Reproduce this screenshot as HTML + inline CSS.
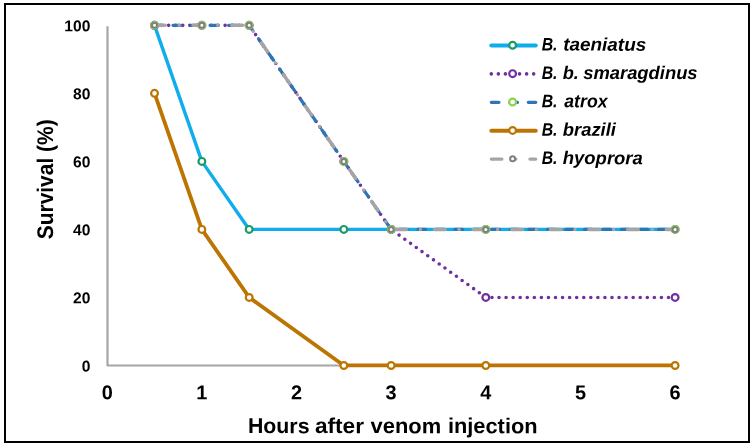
<!DOCTYPE html>
<html><head><meta charset="utf-8"><style>
html,body{margin:0;padding:0;background:#fff;}
body{width:754px;height:446px;overflow:hidden;position:relative;font-family:"Liberation Sans",sans-serif;}
.frame{position:absolute;left:4px;top:3px;width:742px;height:436px;border:2px solid #000;}
svg{position:absolute;left:0;top:0;will-change:transform;}
</style></head><body>
<div class="frame"></div>
<svg width="754" height="446" viewBox="0 0 754 446">
<path d="M107.50,26.2 L107.50,365.50 L675.10,365.50" fill="none" stroke="#a6a6a6" stroke-width="2.2" stroke-linejoin="round"/>
<polyline points="154.53,25.35 201.85,161.39 249.18,229.41 343.82,229.41 391.15,229.41 485.80,229.41 675.10,229.41" fill="none" stroke="#0fadec" stroke-width="3.4" stroke-linejoin="round" stroke-linecap="round"/>
<circle cx="154.53" cy="25.35" r="3.40" fill="#fff" stroke="#1b9966" stroke-width="2.2"/><circle cx="201.85" cy="161.39" r="3.40" fill="#fff" stroke="#1b9966" stroke-width="2.2"/><circle cx="249.18" cy="229.41" r="3.40" fill="#fff" stroke="#1b9966" stroke-width="2.2"/><circle cx="343.82" cy="229.41" r="3.40" fill="#fff" stroke="#1b9966" stroke-width="2.2"/><circle cx="391.15" cy="229.41" r="3.40" fill="#fff" stroke="#1b9966" stroke-width="2.2"/><circle cx="485.80" cy="229.41" r="3.40" fill="#fff" stroke="#1b9966" stroke-width="2.2"/><circle cx="675.10" cy="229.41" r="3.40" fill="#fff" stroke="#1b9966" stroke-width="2.2"/>
<polyline points="154.53,25.35 201.85,25.35 249.18,25.35 343.82,161.39 391.15,229.41 485.80,297.43 675.10,297.43" fill="none" stroke="#7030a0" stroke-width="3.6" stroke-dasharray="0 7.06" stroke-linecap="round" stroke-linejoin="round"/>
<circle cx="154.53" cy="25.35" r="3.40" fill="#fff" stroke="#7030a0" stroke-width="2.2"/><circle cx="201.85" cy="25.35" r="3.40" fill="#fff" stroke="#7030a0" stroke-width="2.2"/><circle cx="249.18" cy="25.35" r="3.40" fill="#fff" stroke="#7030a0" stroke-width="2.2"/><circle cx="343.82" cy="161.39" r="3.40" fill="#fff" stroke="#7030a0" stroke-width="2.2"/><circle cx="391.15" cy="229.41" r="3.40" fill="#fff" stroke="#7030a0" stroke-width="2.2"/><circle cx="485.80" cy="297.43" r="3.40" fill="#fff" stroke="#7030a0" stroke-width="2.2"/><circle cx="675.10" cy="297.43" r="3.40" fill="#fff" stroke="#7030a0" stroke-width="2.2"/>
<polyline points="154.53,25.35 201.85,25.35 249.18,25.35 343.82,161.39 391.15,229.41 485.80,229.41 675.10,229.41" fill="none" stroke="#2e75b6" stroke-width="3.2" stroke-dasharray="7.7 10.8" stroke-linecap="round" stroke-linejoin="round"/>
<circle cx="154.53" cy="25.35" r="3.40" fill="#fff" stroke="#92d050" stroke-width="2.2"/><circle cx="201.85" cy="25.35" r="3.40" fill="#fff" stroke="#92d050" stroke-width="2.2"/><circle cx="249.18" cy="25.35" r="3.40" fill="#fff" stroke="#92d050" stroke-width="2.2"/><circle cx="343.82" cy="161.39" r="3.40" fill="#fff" stroke="#92d050" stroke-width="2.2"/><circle cx="391.15" cy="229.41" r="3.40" fill="#fff" stroke="#92d050" stroke-width="2.2"/><circle cx="485.80" cy="229.41" r="3.40" fill="#fff" stroke="#92d050" stroke-width="2.2"/><circle cx="675.10" cy="229.41" r="3.40" fill="#fff" stroke="#92d050" stroke-width="2.2"/>
<polyline points="154.53,93.37 201.85,229.41 249.18,297.43 343.82,365.45 391.15,365.45 485.80,365.45 675.10,365.45" fill="none" stroke="#bc7502" stroke-width="3.8" stroke-linejoin="round" stroke-linecap="round"/>
<circle cx="154.53" cy="93.37" r="3.40" fill="#fff" stroke="#bc7502" stroke-width="2.2"/><circle cx="201.85" cy="229.41" r="3.40" fill="#fff" stroke="#bc7502" stroke-width="2.2"/><circle cx="249.18" cy="297.43" r="3.40" fill="#fff" stroke="#bc7502" stroke-width="2.2"/><circle cx="343.82" cy="365.45" r="3.40" fill="#fff" stroke="#bc7502" stroke-width="2.2"/><circle cx="391.15" cy="365.45" r="3.40" fill="#fff" stroke="#bc7502" stroke-width="2.2"/><circle cx="485.80" cy="365.45" r="3.40" fill="#fff" stroke="#bc7502" stroke-width="2.2"/><circle cx="675.10" cy="365.45" r="3.40" fill="#fff" stroke="#bc7502" stroke-width="2.2"/>
<polyline points="154.53,25.35 201.85,25.35 249.18,25.35 343.82,161.39 391.15,229.41 485.80,229.41 675.10,229.41" fill="none" stroke="#a5a5a5" stroke-width="3.5" stroke-dasharray="10.6 14.02 0 14.03" stroke-linecap="round" stroke-linejoin="round"/>
<circle cx="154.53" cy="25.35" r="2.50" fill="#fff" stroke="#7f7f7f" stroke-width="2.0"/><circle cx="201.85" cy="25.35" r="2.50" fill="#fff" stroke="#7f7f7f" stroke-width="2.0"/><circle cx="249.18" cy="25.35" r="2.50" fill="#fff" stroke="#7f7f7f" stroke-width="2.0"/><circle cx="343.82" cy="161.39" r="2.50" fill="#fff" stroke="#7f7f7f" stroke-width="2.0"/><circle cx="391.15" cy="229.41" r="2.50" fill="#fff" stroke="#7f7f7f" stroke-width="2.0"/><circle cx="485.80" cy="229.41" r="2.50" fill="#fff" stroke="#7f7f7f" stroke-width="2.0"/><circle cx="675.10" cy="229.41" r="2.50" fill="#fff" stroke="#7f7f7f" stroke-width="2.0"/>
<g transform="translate(90.40,31.30) rotate(0.05)"><text x="0" y="0" font-family="Liberation Sans, sans-serif" font-weight="bold" font-size="15.6" text-anchor="end" >100</text></g>
<g transform="translate(90.40,99.32) rotate(0.05)"><text x="0" y="0" font-family="Liberation Sans, sans-serif" font-weight="bold" font-size="15.6" text-anchor="end" >80</text></g>
<g transform="translate(90.40,167.34) rotate(0.05)"><text x="0" y="0" font-family="Liberation Sans, sans-serif" font-weight="bold" font-size="15.6" text-anchor="end" >60</text></g>
<g transform="translate(90.40,235.36) rotate(0.05)"><text x="0" y="0" font-family="Liberation Sans, sans-serif" font-weight="bold" font-size="15.6" text-anchor="end" >40</text></g>
<g transform="translate(90.40,303.38) rotate(0.05)"><text x="0" y="0" font-family="Liberation Sans, sans-serif" font-weight="bold" font-size="15.6" text-anchor="end" >20</text></g>
<g transform="translate(90.40,371.40) rotate(0.05)"><text x="0" y="0" font-family="Liberation Sans, sans-serif" font-weight="bold" font-size="15.6" text-anchor="end" >0</text></g>
<g transform="translate(107.20,399.20) rotate(0.05)"><text x="0" y="0" font-family="Liberation Sans, sans-serif" font-weight="bold" font-size="19.9" text-anchor="middle" >0</text></g>
<g transform="translate(201.85,399.20) rotate(0.05)"><text x="0" y="0" font-family="Liberation Sans, sans-serif" font-weight="bold" font-size="19.9" text-anchor="middle" >1</text></g>
<g transform="translate(296.50,399.20) rotate(0.05)"><text x="0" y="0" font-family="Liberation Sans, sans-serif" font-weight="bold" font-size="19.9" text-anchor="middle" >2</text></g>
<g transform="translate(391.15,399.20) rotate(0.05)"><text x="0" y="0" font-family="Liberation Sans, sans-serif" font-weight="bold" font-size="19.9" text-anchor="middle" >3</text></g>
<g transform="translate(485.80,399.20) rotate(0.05)"><text x="0" y="0" font-family="Liberation Sans, sans-serif" font-weight="bold" font-size="19.9" text-anchor="middle" >4</text></g>
<g transform="translate(580.45,399.20) rotate(0.05)"><text x="0" y="0" font-family="Liberation Sans, sans-serif" font-weight="bold" font-size="19.9" text-anchor="middle" >5</text></g>
<g transform="translate(675.10,399.20) rotate(0.05)"><text x="0" y="0" font-family="Liberation Sans, sans-serif" font-weight="bold" font-size="19.9" text-anchor="middle" >6</text></g>
<g transform="translate(248.00,433.10) rotate(0.05)"><text x="0" y="0" font-family="Liberation Sans, sans-serif" font-weight="bold" font-size="21.5" text-anchor="start" textLength="61.5" lengthAdjust="spacingAndGlyphs">Hours</text></g>
<g transform="translate(314.90,433.10) rotate(0.05)"><text x="0" y="0" font-family="Liberation Sans, sans-serif" font-weight="bold" font-size="21.5" text-anchor="start" textLength="49.1" lengthAdjust="spacingAndGlyphs">after</text></g>
<g transform="translate(370.60,433.10) rotate(0.05)"><text x="0" y="0" font-family="Liberation Sans, sans-serif" font-weight="bold" font-size="21.5" text-anchor="start" textLength="70.6" lengthAdjust="spacingAndGlyphs">venom</text></g>
<g transform="translate(447.90,433.10) rotate(0.05)"><text x="0" y="0" font-family="Liberation Sans, sans-serif" font-weight="bold" font-size="21.5" text-anchor="start" textLength="89.7" lengthAdjust="spacingAndGlyphs">injection</text></g>
<g transform="translate(53.00,239.30) rotate(-89.95)"><text x="0" y="0" font-family="Liberation Sans, sans-serif" font-weight="bold" font-size="22.6" text-anchor="start" textLength="120" lengthAdjust="spacingAndGlyphs">Survival (%)</text></g>
<line x1="491.3" y1="45.55" x2="535.8" y2="45.55" fill="none" stroke="#0fadec" stroke-width="3.9" stroke-linejoin="round" stroke-linecap="round"/>
<circle cx="512.60" cy="45.30" r="3.40" fill="#fff" stroke="#1b9966" stroke-width="2.2"/>
<g transform="translate(541.70,50.60) rotate(0.05)"><text x="0" y="0" font-family="Liberation Sans, sans-serif" font-weight="bold" font-size="18.3" text-anchor="start" font-style="italic" textLength="15.8" lengthAdjust="spacingAndGlyphs">B.</text></g>
<g transform="translate(563.20,50.60) rotate(0.05)"><text x="0" y="0" font-family="Liberation Sans, sans-serif" font-weight="bold" font-size="18.3" text-anchor="start" font-style="italic" textLength="83.0" lengthAdjust="spacingAndGlyphs">taeniatus</text></g>
<line x1="491.3" y1="73.92" x2="535.8" y2="73.92" fill="none" stroke="#7030a0" stroke-width="3.6" stroke-dasharray="0 7.06" stroke-linecap="round" stroke-linejoin="round"/>
<circle cx="512.60" cy="73.67" r="3.40" fill="#fff" stroke="#7030a0" stroke-width="2.2"/>
<g transform="translate(541.70,78.97) rotate(0.05)"><text x="0" y="0" font-family="Liberation Sans, sans-serif" font-weight="bold" font-size="18.3" text-anchor="start" font-style="italic" textLength="15.8" lengthAdjust="spacingAndGlyphs">B.</text></g>
<g transform="translate(562.70,78.97) rotate(0.05)"><text x="0" y="0" font-family="Liberation Sans, sans-serif" font-weight="bold" font-size="18.3" text-anchor="start" font-style="italic" textLength="16.1" lengthAdjust="spacingAndGlyphs">b.</text></g>
<g transform="translate(583.20,78.97) rotate(0.05)"><text x="0" y="0" font-family="Liberation Sans, sans-serif" font-weight="bold" font-size="18.3" text-anchor="start" font-style="italic" textLength="114.4" lengthAdjust="spacingAndGlyphs">smaragdinus</text></g>
<line x1="491.3" y1="102.30" x2="535.8" y2="102.30" fill="none" stroke="#2e75b6" stroke-width="3.2" stroke-dasharray="7.7 10.8" stroke-linecap="round" stroke-linejoin="round"/>
<circle cx="512.60" cy="102.05" r="3.40" fill="#fff" stroke="#92d050" stroke-width="2.2"/>
<g transform="translate(541.70,107.35) rotate(0.05)"><text x="0" y="0" font-family="Liberation Sans, sans-serif" font-weight="bold" font-size="18.3" text-anchor="start" font-style="italic" textLength="15.8" lengthAdjust="spacingAndGlyphs">B.</text></g>
<g transform="translate(564.30,107.35) rotate(0.05)"><text x="0" y="0" font-family="Liberation Sans, sans-serif" font-weight="bold" font-size="18.3" text-anchor="start" font-style="italic" textLength="43.2" lengthAdjust="spacingAndGlyphs">atrox</text></g>
<line x1="491.3" y1="130.68" x2="535.8" y2="130.68" fill="none" stroke="#bc7502" stroke-width="3.9" stroke-linejoin="round" stroke-linecap="round"/>
<circle cx="512.60" cy="130.43" r="3.40" fill="#fff" stroke="#bc7502" stroke-width="2.2"/>
<g transform="translate(541.70,135.73) rotate(0.05)"><text x="0" y="0" font-family="Liberation Sans, sans-serif" font-weight="bold" font-size="18.3" text-anchor="start" font-style="italic" textLength="15.8" lengthAdjust="spacingAndGlyphs">B.</text></g>
<g transform="translate(562.80,135.73) rotate(0.05)"><text x="0" y="0" font-family="Liberation Sans, sans-serif" font-weight="bold" font-size="18.3" text-anchor="start" font-style="italic" textLength="53.1" lengthAdjust="spacingAndGlyphs">brazili</text></g>
<line x1="491.3" y1="159.05" x2="535.8" y2="159.05" fill="none" stroke="#a5a5a5" stroke-width="3.2" stroke-dasharray="10.6 14.02 0 14.03" stroke-linecap="round" stroke-linejoin="round"/>
<circle cx="512.60" cy="158.80" r="2.50" fill="#fff" stroke="#7f7f7f" stroke-width="2.0"/>
<g transform="translate(541.70,164.10) rotate(0.05)"><text x="0" y="0" font-family="Liberation Sans, sans-serif" font-weight="bold" font-size="18.3" text-anchor="start" font-style="italic" textLength="15.8" lengthAdjust="spacingAndGlyphs">B.</text></g>
<g transform="translate(562.80,164.10) rotate(0.05)"><text x="0" y="0" font-family="Liberation Sans, sans-serif" font-weight="bold" font-size="18.3" text-anchor="start" font-style="italic" textLength="80.0" lengthAdjust="spacingAndGlyphs">hyoprora</text></g>
</svg>
</body></html>
